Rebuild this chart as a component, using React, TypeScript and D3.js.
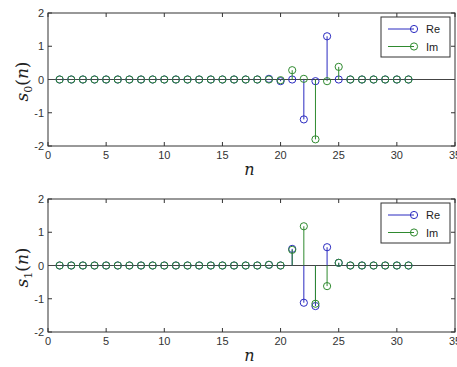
import React, { useEffect, useRef } from "react";
import * as d3 from "d3";

// sample index n = 1..31
const nValues = d3.range(1, 32);

// s0(n): only a few non-zero samples
const s0Re = [0, 0, 0, 0, 0, 0, 0, 0, 0, 0, 0, 0, 0, 0, 0, 0, 0, 0, 0.02, -0.05, 0, -1.2, -0.05, 1.3, 0, 0, 0, 0, 0, 0, 0];
const s0Im = [0, 0, 0, 0, 0, 0, 0, 0, 0, 0, 0, 0, 0, 0, 0, 0, 0, 0, 0, -0.02, 0.28, 0.02, -1.8, -0.05, 0.38, 0, 0, 0, 0, 0, 0];

const s1Re = [0, 0, 0, 0, 0, 0, 0, 0, 0, 0, 0, 0, 0, 0, 0, 0, 0, 0, 0.02, 0, 0.5, -1.12, -1.22, 0.55, 0.08, 0, 0, 0, 0, 0, 0];
const s1Im = [0, 0, 0, 0, 0, 0, 0, 0, 0, 0, 0, 0, 0, 0, 0, 0, 0, 0, 0.02, 0, 0.47, 1.18, -1.15, -0.62, 0.08, 0, 0, 0, 0, 0, 0];

const xTicks = [0, 5, 10, 15, 20, 25, 30, 35];
const yTicks = [-2, -1, 0, 1, 2];
const legendLabels = ["Re", "Im"];

const reColor = "#2a2ac0";
const imColor = "#2f8a2f";

const panels = [
  { top: 13, sub: "0", re: s0Re, im: s0Im },
  { top: 199, sub: "1", re: s1Re, im: s1Im },
];

export default function App() {
  const ref = useRef<SVGSVGElement>(null);

  useEffect(() => {
    const svg = d3.select(ref.current);
    svg.selectAll("*").remove();

    const left = 48, right = 455, plotH = 133;

    panels.forEach((p) => {
      const x = d3.scaleLinear().domain([0, 35]).range([left, right]);
      const y = d3.scaleLinear().domain([-2, 2]).range([p.top + plotH, p.top]);
      const g = svg.append("g");

      // axes box
      g.append("rect")
        .attr("x", left).attr("y", p.top)
        .attr("width", right - left).attr("height", plotH)
        .attr("fill", "white").attr("stroke", "#333").attr("stroke-width", 1);

      // ticks (inward, all four sides)
      xTicks.forEach((t) => {
        g.append("line").attr("x1", x(t)).attr("x2", x(t))
          .attr("y1", p.top + plotH).attr("y2", p.top + plotH - 4).attr("stroke", "#333");
        g.append("line").attr("x1", x(t)).attr("x2", x(t))
          .attr("y1", p.top).attr("y2", p.top + 4).attr("stroke", "#333");
        g.append("text").attr("x", x(t)).attr("y", p.top + plotH + 13)
          .attr("text-anchor", "middle").attr("font-family", "Liberation Sans, Arial, sans-serif")
          .attr("font-size", 11).attr("fill", "#333").text(t);
      });
      yTicks.forEach((t) => {
        g.append("line").attr("x1", left).attr("x2", left + 4)
          .attr("y1", y(t)).attr("y2", y(t)).attr("stroke", "#333");
        g.append("line").attr("x1", right).attr("x2", right - 4)
          .attr("y1", y(t)).attr("y2", y(t)).attr("stroke", "#333");
        g.append("text").attr("x", left - 4).attr("y", y(t) + 4)
          .attr("text-anchor", "end").attr("font-family", "Liberation Sans, Arial, sans-serif")
          .attr("font-size", 11).attr("fill", "#333").text(t);
      });

      // baseline
      g.append("line").attr("x1", left).attr("x2", right)
        .attr("y1", y(0)).attr("y2", y(0)).attr("stroke", "#444").attr("stroke-width", 1);

      // stems: Re then Im on top
      [[p.re, reColor], [p.im, imColor]].forEach(([vals, color]) => {
        const v = vals as number[];
        const s = g.append("g");
        s.selectAll("line.stem").data(nValues).enter().append("line")
          .attr("x1", (d) => x(d)).attr("x2", (d) => x(d))
          .attr("y1", y(0)).attr("y2", (d, i) => y(v[i]))
          .attr("stroke", color as string).attr("stroke-width", 1);
        s.selectAll("circle").data(nValues).enter().append("circle")
          .attr("cx", (d) => x(d)).attr("cy", (d, i) => y(v[i]))
          .attr("r", 3.6).attr("fill", "none")
          .attr("stroke", color as string).attr("stroke-width", 1);
      });

      // legend
      const lx = 381, ly = p.top + 4;
      g.append("rect").attr("x", lx).attr("y", ly).attr("width", 69).attr("height", 40)
        .attr("fill", "white").attr("stroke", "#333");
      legendLabels.forEach((lab, i) => {
        const cy = ly + 12 + i * 17.5;
        const c = i === 0 ? reColor : imColor;
        g.append("line").attr("x1", lx + 7).attr("x2", lx + 33)
          .attr("y1", cy).attr("y2", cy).attr("stroke", c);
        g.append("circle").attr("cx", lx + 33).attr("cy", cy).attr("r", 3.6)
          .attr("fill", "none").attr("stroke", c);
        g.append("text").attr("x", lx + 45).attr("y", cy + 4)
          .attr("font-family", "Liberation Sans, Arial, sans-serif")
          .attr("font-size", 11).attr("fill", "#222").text(lab);
      });

      // x label
      g.append("text").attr("x", (left + right) / 2 - 2).attr("y", p.top + plotH + 29)
        .attr("text-anchor", "middle").attr("font-family", "DejaVu Serif, serif")
        .attr("font-style", "italic").attr("font-size", 16).attr("fill", "#222").text("n");

      // y label
      const yl = g.append("text")
        .attr("transform", `translate(28, ${y(0) + 2}) rotate(-90)`)
        .attr("text-anchor", "middle").attr("font-family", "DejaVu Serif, serif")
        .attr("font-size", 17).attr("fill", "#222");
      yl.append("tspan").attr("font-style", "italic").text("s");
      yl.append("tspan").attr("font-size", 11).attr("dy", 4).text(p.sub);
      yl.append("tspan").attr("dy", -4).text("(");
      yl.append("tspan").attr("font-style", "italic").text("n");
      yl.append("tspan").text(")");
    });
  }, []);

  return (
    <svg ref={ref} width={457} height={367}
      style={{ position: "absolute", left: 0, top: 0, background: "white" }} />
  );
}
